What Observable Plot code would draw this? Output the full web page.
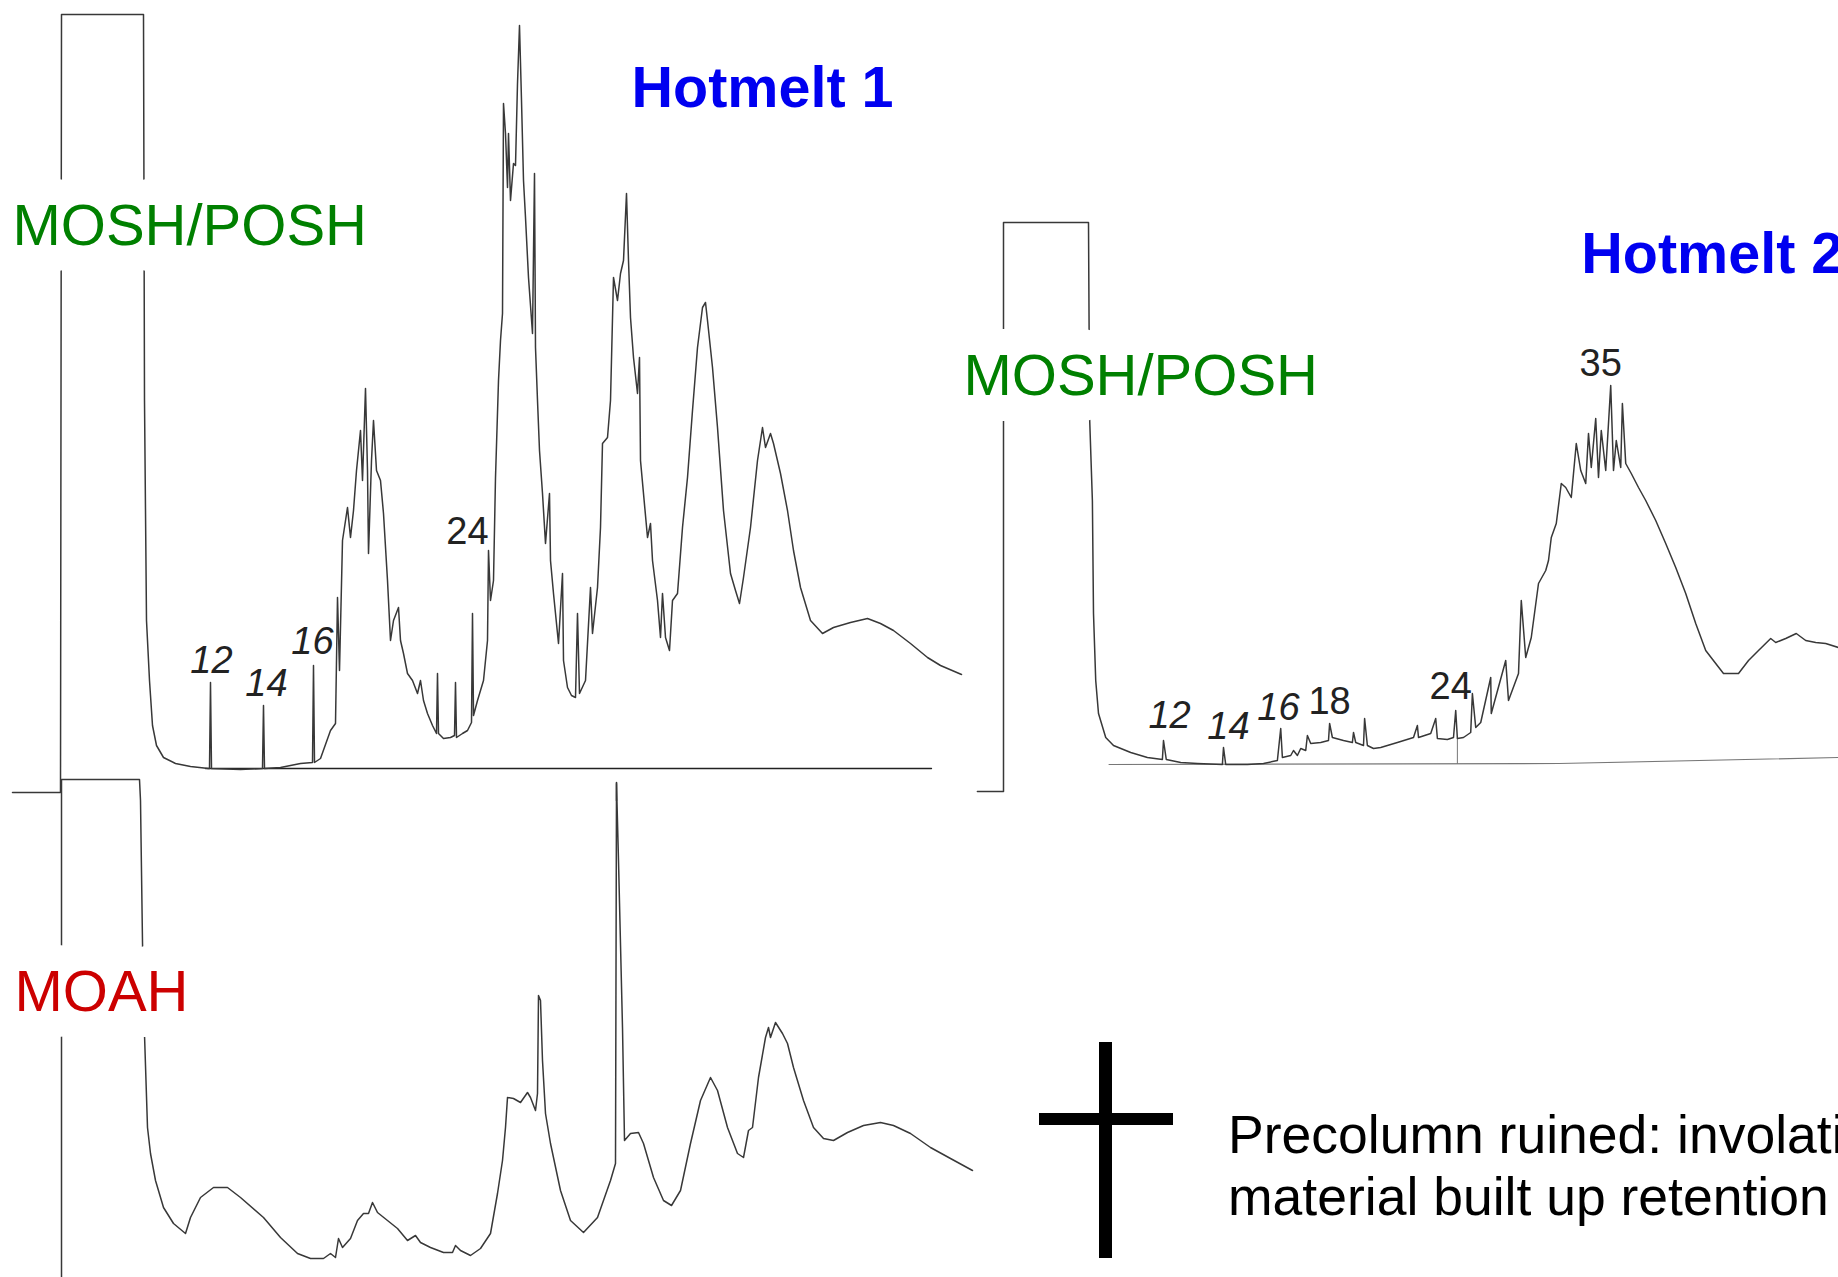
<!DOCTYPE html>
<html><head><meta charset="utf-8">
<script src="https://cdn.jsdelivr.net/npm/d3@7"></script>
<script src="https://cdn.jsdelivr.net/npm/@observablehq/plot@0.6"></script>
<style>
html,body{margin:0;padding:0;background:#fff;overflow:hidden;}
#stage{position:relative;width:1838px;height:1277px;overflow:hidden;background:#fff;font-family:"Liberation Sans",Arial,Helvetica,sans-serif;}
#stage svg{position:absolute;left:0;top:0;}
.note{position:absolute;left:1228px;font-size:53.5px;line-height:1;color:#000;white-space:nowrap;}
.bar{position:absolute;background:#000;}
</style></head><body><div id="stage"></div>
<script>
// ---------- DATA: retention time (s), detector signal (arbitrary units) ----------
const hotmelt1Trace = [[-98,-24],[-2,-24],[0,754],[164,754],[166,368],[170,148],[176,88],[182,43],[190,23],[204,11],[228,5],[258,2],[294,0],[296,0],[298,86],[300,0],[358,-1],[402,0],[404,63],[406,0],[438,1],[478,5],[502,6],[504,103],[506,6],[518,10],[538,38],[548,45],[552,171],[556,98],[562,228],[572,261],[578,231],[584,258],[590,298],[598,338],[602,288],[608,380],[612,298],[614,215],[620,308],[624,348],[630,298],[638,288],[644,255],[652,188],[658,128],[664,148],[674,161],[678,128],[684,115],[692,95],[702,88],[712,75],[718,88],[724,68],[732,55],[742,43],[750,35],[752,95],[754,35],[764,30],[778,31],[786,33],[788,86],[790,31],[802,35],[812,38],[820,46],[822,155],[824,53],[832,68],[844,88],[852,128],[854,218],[858,168],[864,188],[868,291],[874,388],[878,428],[882,455],[884,665],[888,635],[892,581],[894,635],[898,568],[904,605],[908,603],[912,685],[916,743],[920,668],[924,588],[928,551],[934,491],[942,435],[946,595],[948,421],[952,368],[956,318],[962,275],[968,225],[976,275],[978,208],[984,175],[994,125],[1002,195],[1004,108],[1012,81],[1020,73],[1028,71],[1032,155],[1036,75],[1048,88],[1058,181],[1062,135],[1072,181],[1078,241],[1082,325],[1092,331],[1098,368],[1104,491],[1112,468],[1118,495],[1124,508],[1130,575],[1134,508],[1138,451],[1144,411],[1152,375],[1156,411],[1158,308],[1172,231],[1178,245],[1182,208],[1192,168],[1198,131],[1202,175],[1208,131],[1216,118],[1222,168],[1232,175],[1242,241],[1252,291],[1262,358],[1272,421],[1282,461],[1288,466],[1292,448],[1302,401],[1312,341],[1324,258],[1338,195],[1348,178],[1356,165],[1364,191],[1378,241],[1392,308],[1402,341],[1408,321],[1418,335],[1424,325],[1438,295],[1452,258],[1464,218],[1478,181],[1498,148],[1522,135],[1544,141],[1578,146],[1612,150],[1638,145],[1664,138],[1698,125],[1732,111],[1758,103],[1800,94]];
const hotmelt1Baseline = [[288,0],[1740,0]];
const hotmelt1Tick = [[1110,-14],[1110,-32]];

const moahTrace = [[0,0],[0,498],[156,498],[158,477],[162,335],[166,243],[172,150],[178,124],[188,97],[204,70],[224,54],[248,44],[258,60],[278,80],[304,90],[332,90],[358,80],[404,60],[438,40],[472,24],[498,19],[524,19],[538,24],[548,20],[554,39],[562,30],[578,39],[592,57],[604,64],[614,64],[622,75],[632,65],[652,57],[672,49],[692,37],[708,42],[718,35],[738,30],[764,25],[782,25],[788,32],[798,27],[818,22],[838,29],[858,44],[872,84],[882,117],[888,150],[892,180],[904,179],[918,175],[932,185],[938,180],[948,167],[952,184],[954,282],[958,277],[962,217],[968,164],[978,134],[998,87],[1018,57],[1044,45],[1072,60],[1098,97],[1108,114],[1110,494],[1114,417],[1122,250],[1126,137],[1138,144],[1154,145],[1164,134],[1184,100],[1204,77],[1220,72],[1238,87],[1258,134],[1278,177],[1298,200],[1312,187],[1332,150],[1352,124],[1364,120],[1374,147],[1382,150],[1394,200],[1408,240],[1414,250],[1418,240],[1428,255],[1442,244],[1452,234],[1464,210],[1484,177],[1504,150],[1524,139],[1544,137],[1572,145],[1604,152],[1638,155],[1664,152],[1698,144],[1738,130],[1778,119],[1822,107]];

const hotmelt2Trace = [[-47,-28],[0,-28],[0,541],[153,541],[155,346],[160,263],[162,150],[166,83],[171,50],[184,26],[198,18],[229,11],[259,6],[286,4],[288,23],[293,4],[319,1],[349,0],[394,-1],[396,16],[400,-1],[439,-1],[468,0],[493,3],[499,35],[502,6],[517,8],[522,13],[529,8],[535,15],[544,13],[547,28],[553,20],[571,21],[585,23],[587,40],[592,26],[612,23],[628,21],[630,31],[634,21],[648,18],[650,45],[655,18],[666,15],[679,16],[709,21],[738,26],[745,38],[747,26],[769,30],[778,45],[781,25],[799,24],[810,26],[814,53],[817,25],[828,26],[841,31],[844,70],[850,36],[859,41],[877,86],[878,50],[904,103],[909,63],[927,90],[932,163],[940,106],[950,126],[963,180],[976,193],[981,203],[986,226],[995,240],[1004,280],[1012,276],[1022,266],[1031,320],[1039,293],[1048,280],[1053,330],[1058,296],[1066,345],[1071,286],[1076,333],[1084,293],[1093,378],[1098,293],[1103,323],[1111,296],[1114,360],[1120,300],[1130,290],[1143,276],[1156,263],[1174,243],[1192,220],[1210,196],[1228,170],[1246,140],[1264,113],[1282,100],[1296,90],[1323,90],[1341,103],[1359,113],[1381,125],[1390,121],[1408,125],[1427,130],[1444,123],[1462,121],[1480,120],[1503,116]];
const hotmelt2Baseline = [[190,-1],[1000,0],[1503,6]];
const hotmelt2Tick = [[817,25],[817,0]];

// peak labels (n-alkane carbon numbers)
const hm1PeakLabels = ["12","14","16","24"];
const hm1PeakTimes = [300,410,502,812];
const hm1PeakHeights = [96,73,115,225];
const hm1PeakItalic = [true,true,true,false];

const hm2PeakLabels = ["12","14","16","18","24","35"];
const hm2PeakTimes = [299,405,495,587,805,1075];
const hm2PeakHeights = [36,25,44,50,65,388];
const hm2PeakItalic = [true,true,true,false,false,false];

// panel titles and fraction names
const titleTexts = ["Hotmelt 1","Hotmelt 2"];
const fractionTexts = ["MOSH/POSH","MOAH","MOSH/POSH"];
const noteLines = ["Precolumn ruined: involatile","material built up retention"];

// ---------- LAYOUT ----------
const W = 1838, H = 1277;
const FONT = '"Liberation Sans", Arial, Helvetica, sans-serif';
const stage = document.getElementById("stage");
const xy = {x: d => d[0], y: d => d[1]};
const traceStyle = {stroke: "#383838", strokeWidth: 1.5, strokeLinejoin: "round"};

function frame(x0, kx, y0) {
  return {
    x: {domain: [(0 - x0) * kx, (W - x0) * kx], axis: null},
    y: {domain: [y0 - H, y0], axis: null}
  };
}
function peaks(labels, times, heights, italic, want) {
  return labels.map((l, i) => ({label: l, t: times[i], s: heights[i], it: italic[i]})).filter(d => d.it === want);
}
function peakMarks(labels, times, heights, italic) {
  const common = {x: "t", y: "s", text: "label", fontSize: 38, fill: "#222", textAnchor: "middle", lineAnchor: "bottom", fontFamily: FONT};
  return [
    Plot.text(peaks(labels, times, heights, italic, true), {...common, fontStyle: "italic"}),
    Plot.text(peaks(labels, times, heights, italic, false), common)
  ];
}
function fraction(text, t, s, color) {
  return Plot.text([{text, t, s}], {x: "t", y: "s", text: "text", fontSize: 58, fill: color, stroke: "white", strokeWidth: 52, strokeLinejoin: "round", paintOrder: "stroke", textAnchor: "start", lineAnchor: "bottom", fontFamily: FONT});
}
function title(text, t, s) {
  return Plot.text([{text, t, s}], {x: "t", y: "s", text: "text", fontSize: 57.5, fontWeight: "bold", fill: "#0000f0", textAnchor: "start", lineAnchor: "bottom", fontFamily: FONT});
}
function panel(fr, marks) {
  const svg = Plot.plot({width: W, height: H, margin: 0, ...fr, style: {background: "transparent", overflow: "hidden"}, marks});
  stage.appendChild(svg);
}

// Hotmelt 1 – MOSH/POSH
panel(frame(61, 2, 768), [
  Plot.line(hotmelt1Baseline, {...xy, stroke: "#222", strokeWidth: 1.3}),
  Plot.line(hotmelt1Tick, {...xy, stroke: "#333", strokeWidth: 1.5}),
  Plot.line(hotmelt1Trace, {...xy, ...traceStyle}),
  ...peakMarks(hm1PeakLabels, hm1PeakTimes, hm1PeakHeights, hm1PeakItalic),
  fraction(fractionTexts[0], -98, 524, "#008000"),
  title(titleTexts[0], 1140, 662)
]);

// Hotmelt 1 – MOAH
panel(frame(61, 2, 1277), [
  Plot.line(moahTrace, {...xy, ...traceStyle}),
  fraction(fractionTexts[1], -94, 267, "#cc0000")
]);

// Hotmelt 2 – MOSH/POSH
panel(frame(1003, 1.8, 763), [
  Plot.line(hotmelt2Baseline, {...xy, stroke: "#777", strokeWidth: 1.2}),
  Plot.line(hotmelt2Tick, {...xy, stroke: "#777", strokeWidth: 1}),
  Plot.line(hotmelt2Trace, {...xy, ...traceStyle}),
  ...peakMarks(hm2PeakLabels, hm2PeakTimes, hm2PeakHeights, hm2PeakItalic),
  fraction(fractionTexts[2], -72, 369, "#008000"),
  title(titleTexts[1], 1040, 491)
]);

// cross and note
const v = document.createElement("div"); v.className = "bar";
Object.assign(v.style, {left: "1099px", top: "1042px", width: "13px", height: "216px"});
const hbar = document.createElement("div"); hbar.className = "bar";
Object.assign(hbar.style, {left: "1039px", top: "1113px", width: "134px", height: "12px"});
stage.appendChild(v); stage.appendChild(hbar);
noteLines.forEach((line, i) => {
  const d = document.createElement("div");
  d.className = "note";
  d.style.top = (1108 + i * 62) + "px";
  d.textContent = line;
  stage.appendChild(d);
});
</script></body></html>
